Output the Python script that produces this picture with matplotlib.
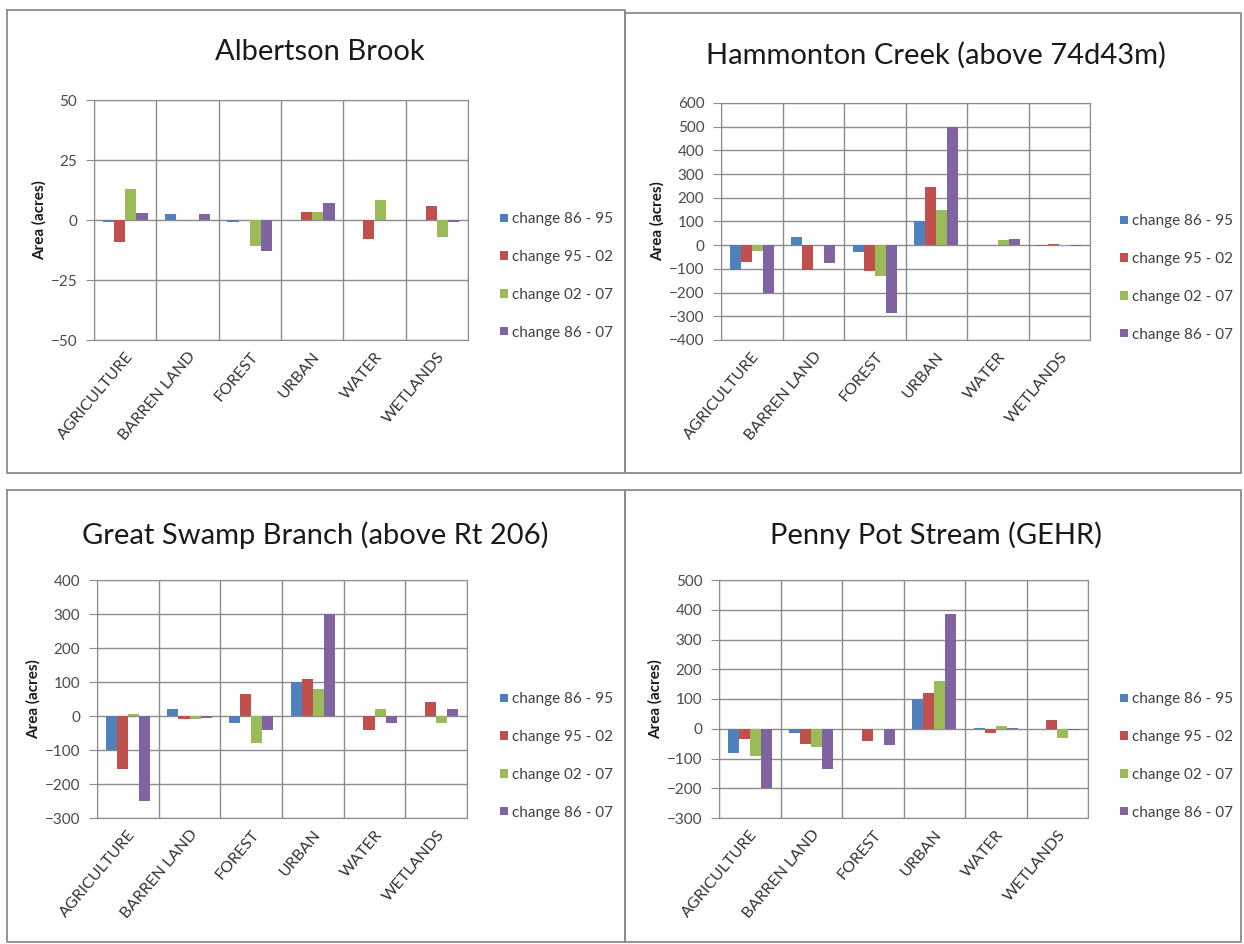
import numpy as np
import matplotlib.pyplot as plt
from matplotlib.lines import Line2D

plt.rcParams['font.family'] = ['Lato', 'DejaVu Sans']

W, H = 1244, 944

categories = ['AGRICULTURE', 'BARREN LAND', 'FOREST', 'URBAN', 'WATER', 'WETLANDS']
series_names = ['change 86 - 95', 'change 95 - 02', 'change 02 - 07', 'change 86 - 07']
colors = ['#4F81BD', '#C0504D', '#9BBB59', '#8064A2']

# values, one list per series (same order as categories)
albertson_8695 = [-1, 2.5, -1, 0, 0, 0]
albertson_9502 = [-9, 0, 0, 3.5, -8, 6]
albertson_0207 = [13, 0, -11, 3.5, 8.5, -7]
albertson_8607 = [3, 2.5, -13, 7, 0, -1]

hammonton_8695 = [-105, 35, -30, 100, 0, -5]
hammonton_9502 = [-70, -105, -110, 245, 0, 5]
hammonton_0207 = [-25, 0, -130, 150, 20, -5]
hammonton_8607 = [-200, -75, -285, 500, 25, -5]

swamp_8695 = [-100, 20, -20, 100, 0, 0]
swamp_9502 = [-155, -10, 65, 110, -40, 40]
swamp_0207 = [5, -10, -80, 80, 20, -20]
swamp_8607 = [-250, -5, -40, 300, -20, 20]

penny_8695 = [-80, -15, 0, 100, 3, 0]
penny_9502 = [-35, -50, -40, 120, -15, 30]
penny_0207 = [-90, -60, -5, 160, 10, -30]
penny_8607 = [-200, -135, -55, 385, 3, -5]

titles = ['Albertson Brook', 'Hammonton Creek (above 74d43m)',
          'Great Swamp Branch (above Rt 206)', 'Penny Pot Stream (GEHR)']
y_ticks = [[-50, -25, 0, 25, 50],
           list(range(-400, 601, 100)),
           list(range(-300, 401, 100)),
           list(range(-300, 501, 100))]
panel_data = [
    [albertson_8695, albertson_9502, albertson_0207, albertson_8607],
    [hammonton_8695, hammonton_9502, hammonton_0207, hammonton_8607],
    [swamp_8695, swamp_9502, swamp_0207, swamp_8607],
    [penny_8695, penny_9502, penny_0207, penny_8607],
]


def px_rect(l, t, r, b):
    return [l / W, 1 - b / H, (r - l) / W, (b - t) / H]


fig = plt.figure(figsize=(W / 100, H / 100), dpi=100)

# panel boxes (left, top, right, bottom) in pixels
boxes = [(7, 10, 625, 473), (625, 13, 1241, 473),
         (7, 490, 625, 942), (625, 490, 1241, 942)]
for l, t, r, b in boxes:
    xs = np.array([l, r, r, l, l]) / W
    ys = 1 - np.array([t, t, b, b, t]) / H
    fig.add_artist(Line2D(xs, ys, color='#8a8a8a', lw=1.3))

axes_px = [(94, 100, 468, 340), (721, 103, 1090, 340),
           (97, 580, 467, 818), (719, 580, 1088, 818)]
title_pos = [(320, 52), (936, 55), (315, 535), (936, 535)]
legend_pos = [(494, 276), (1114, 278), (494, 756), (1114, 756)]

x = np.arange(len(categories))
bw = 0.18

for i in range(4):
    ax = fig.add_axes(px_rect(*axes_px[i]))
    for j, vals in enumerate(panel_data[i]):
        ax.bar(x + (j - 1.5) * bw, vals, bw, color=colors[j],
               label=series_names[j], zorder=3)

    ax.set_xlim(-0.5, len(categories) - 0.5)
    ax.set_ylim(y_ticks[i][0], y_ticks[i][-1])
    ax.set_yticks(y_ticks[i])
    ax.set_xticks(x)
    ax.set_xticklabels(categories, rotation=50, ha='right',
                       rotation_mode='anchor', fontsize=11.5, color='#333333')
    ax.set_xticks(np.arange(-0.5, len(categories), 1), minor=True)
    ax.tick_params(axis='x', which='both', length=0, pad=7)
    ax.tick_params(axis='y', length=6, color='#8c8c8c', labelsize=11,
                   labelcolor='#4a4a4a', pad=6)
    ax.grid(axis='y', color='#8c8c8c', lw=1, zorder=0)
    ax.grid(axis='x', which='minor', color='#8c8c8c', lw=1, zorder=0)
    for s in ax.spines.values():
        s.set_color('#8c8c8c')
    ax.set_ylabel('Area (acres)', fontsize=11, fontweight='bold',
                  labelpad=3, color='#1a1a1a')

    fig.text(title_pos[i][0] / W, 1 - title_pos[i][1] / H, titles[i],
             ha='center', va='center', fontsize=21, color='#1a1a1a')

    ax.legend(loc='center left',
              bbox_to_anchor=(legend_pos[i][0] / W, 1 - legend_pos[i][1] / H),
              bbox_transform=fig.transFigure, frameon=False, fontsize=11,
              handlelength=0.5, handleheight=0.5, handletextpad=0.3,
              labelspacing=1.55, borderaxespad=0, labelcolor='#404040')

fig.savefig('out.png', dpi=100)
